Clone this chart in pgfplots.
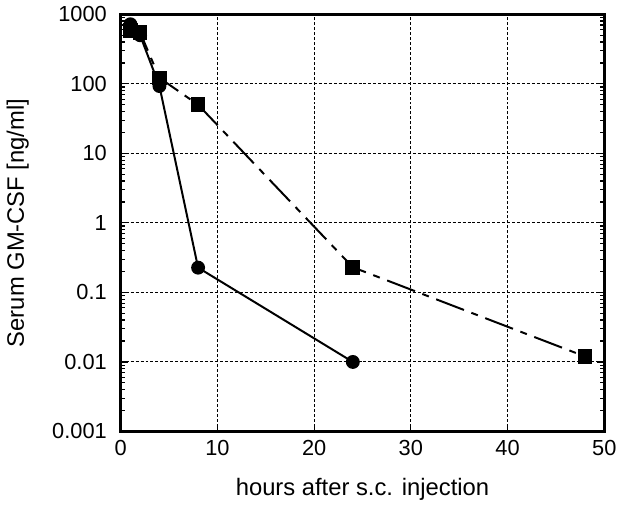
\documentclass[border=0pt]{standalone}
\usepackage{fontspec}
\setmainfont{Liberation Sans}
\usepackage{pgfplots}
\pgfplotsset{compat=1.18}
\begin{document}
\begin{tikzpicture}
\begin{axis}[
  scale only axis,
  width=244pt, height=210.5pt,
  xmin=0, xmax=50,
  ymode=log, ymin=0.001, ymax=1000,
  xtick={0,10,20,30,40,50},
  xticklabels={0,10,20,30,40,50},
  ytick={0.001,0.01,0.1,1,10,100,1000},
  yticklabels={0.001,0.01,0.1,1,10,100,1000},
  xtick pos=left,
  tick align=inside,
  major tick length=3.5pt,
  minor tick length=2pt,
  tick style={black, line width=0.6pt},
  axis line style={line width=1.4pt},
  grid=major,
  major grid style={black, line width=0.5pt, dash pattern=on 1.5pt off 1pt},
  ticklabel style={font=\fontsize{11}{13}\selectfont},
  yticklabel style={xshift=-3.5pt},
  xticklabel style={yshift=-1pt},
  label style={font=\fontsize{12}{14}\selectfont},
  xlabel={hours after s.c. injection},
  ylabel={Serum GM-CSF [ng/ml]},
  xlabel style={at={(axis description cs:0.5,0)}, anchor=base, yshift=-32.5pt},
  ylabel style={at={(axis description cs:0,0.5)}, anchor=center, rotate=0, yshift=52pt},
  clip=false,
]
\addplot[black, line width=1pt, dash pattern=on 15pt off 4pt on 3.5pt off 4pt,
  mark=square*, mark size=3.2pt, mark options={solid}]
  coordinates {(1,590) (2,550) (4,122) (8,50) (24,0.23) (48,0.012)};
\addplot[black, line width=1pt, mark=*, mark size=3pt]
  coordinates {(1,720) (2,500) (4,93) (8,0.227) (24,0.01)};
\end{axis}
\end{tikzpicture}
\end{document}
